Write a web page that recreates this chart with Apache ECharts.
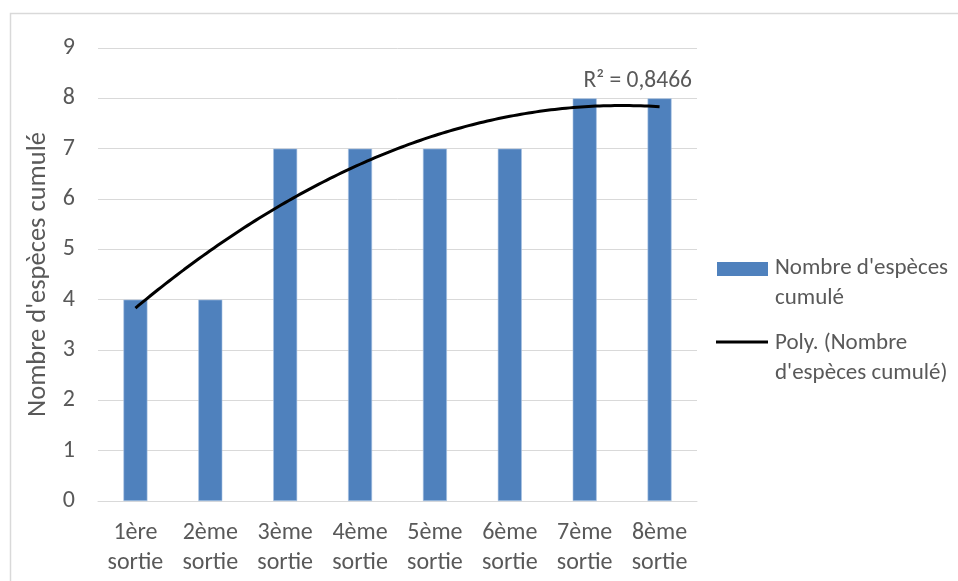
<!DOCTYPE html>
<html>
<head>
<meta charset="utf-8">
<script src="https://cdn.jsdelivr.net/npm/echarts@6/dist/echarts.min.js"></script>
<style>
  html, body { margin: 0; padding: 0; background: #ffffff; }
  #chart { width: 958px; height: 581px; }
</style>
</head>
<body>
<div id="chart"></div>
<script>
// Sorties and cumulative species count
const categories = ['1ère\nsortie', '2ème\nsortie', '3ème\nsortie', '4ème\nsortie',
                    '5ème\nsortie', '6ème\nsortie', '7ème\nsortie', '8ème\nsortie'];
const speciesCount = [4, 4, 7, 7, 7, 7, 8, 8];
const yTicks = [0, 1, 2, 3, 4, 5, 6, 7, 8, 9];
const seriesName = "Nombre d'espèces cumulé";
const trendName = "Poly. (Nombre d'espèces cumulé)";

// Least-squares quadratic trend (order 2) over x = 1..n
function quadraticTrend(ys) {
  const n = ys.length;
  const xs = ys.map((_, i) => i + 1);
  const xm = xs.reduce((a, b) => a + b, 0) / n;
  const ym = ys.reduce((a, b) => a + b, 0) / n;
  const t = xs.map(x => x - xm);
  const t2m = t.reduce((a, v) => a + v * v, 0) / n;
  const u = t.map(v => v * v - t2m);
  const b = t.reduce((a, v, i) => a + v * ys[i], 0) / t.reduce((a, v) => a + v * v, 0);
  const c = u.reduce((a, v, i) => a + v * ys[i], 0) / u.reduce((a, v) => a + v * v, 0);
  const f = x => ym + b * (x - xm) + c * ((x - xm) * (x - xm) - t2m);
  const ssTot = ys.reduce((a, y) => a + (y - ym) * (y - ym), 0);
  const ssRes = ys.reduce((a, y, i) => a + (y - f(xs[i])) * (y - f(xs[i])), 0);
  return { f, r2: 1 - ssRes / ssTot };
}
const trend = quadraticTrend(speciesCount);
const r2Label = 'R² = ' + trend.r2.toFixed(4).replace('.', ',');
// trend curve evaluated along the category positions (1 .. n)
const trendCurve = [];
for (let k = 0; k <= (speciesCount.length - 1) * 20; k++) {
  const x = 1 + k / 20;
  trendCurve.push([x, trend.f(x)]);
}

const FONT = "Carlito, 'Open Sans', sans-serif";
const TEXT = '#595959';
const BAR = '#4f81bd';

const chart = echarts.init(document.getElementById('chart'), null, { renderer: 'canvas' });
chart.setOption({
  animation: false,
  backgroundColor: '#ffffff',
  textStyle: { fontFamily: FONT },
  grid: { left: 98, right: 261, top: 48, bottom: 80, containLabel: false },
  xAxis: [
    {
      type: 'category',
      data: categories,
      axisLine: { lineStyle: { color: '#d9d9d9', width: 1 } },
      axisTick: { show: false },
      axisLabel: { color: TEXT, fontSize: 24, fontFamily: FONT, lineHeight: 30, margin: 17, interval: 0 }
    },
    {
      // continuous axis aligned with category centres, for the trend curve
      type: 'value',
      min: 0.5,
      max: categories.length + 0.5,
      show: false
    }
  ],
  yAxis: {
    type: 'value',
    min: yTicks[0],
    max: yTicks[yTicks.length - 1],
    interval: 1,
    name: seriesName,
    nameLocation: 'middle',
    nameRotate: 90,
    nameGap: 46,
    nameTextStyle: { color: TEXT, fontSize: 26.5, fontFamily: FONT },
    axisLine: { show: false },
    axisTick: { show: false },
    axisLabel: { color: TEXT, fontSize: 24, fontFamily: FONT, margin: 23 },
    splitLine: { lineStyle: { color: '#d9d9d9', width: 1 } }
  },
  series: [
    {
      name: seriesName,
      type: 'bar',
      data: speciesCount,
      barWidth: 24,
      itemStyle: { color: BAR, borderColor: '#a9c4e4', borderWidth: 0.6 }
    },
    {
      name: trendName,
      type: 'line',
      xAxisIndex: 1,
      data: trendCurve,
      symbol: 'none',
      lineStyle: { color: '#000000', width: 3 },
      z: 5
    }
  ],
  graphic: [
    // chart frame
    { type: 'rect', silent: true, shape: { x: 10.5, y: 13.5, width: 960, height: 600 },
      style: { fill: null, stroke: '#d9d9d9', lineWidth: 1.5 } },
    // R² annotation
    { type: 'text', style: { x: 692, y: 81, text: r2Label, fill: TEXT,
      font: '23.5px ' + FONT, textAlign: 'right', textVerticalAlign: 'middle' } },
    // legend
    { type: 'rect', shape: { x: 717, y: 262, width: 51, height: 14 }, style: { fill: BAR } },
    { type: 'text', style: { x: 775, y: 253, text: "Nombre d'espèces\ncumulé", fill: TEXT,
      font: '23px ' + FONT, lineHeight: 30, textVerticalAlign: 'top' } },
    { type: 'line', shape: { x1: 716, y1: 342, x2: 768, y2: 342 },
      style: { stroke: '#000000', lineWidth: 3 } },
    { type: 'text', style: { x: 775, y: 328, text: "Poly. (Nombre\nd'espèces cumulé)", fill: TEXT,
      font: '23px ' + FONT, lineHeight: 30, textVerticalAlign: 'top' } }
  ]
});
</script>
</body>
</html>
